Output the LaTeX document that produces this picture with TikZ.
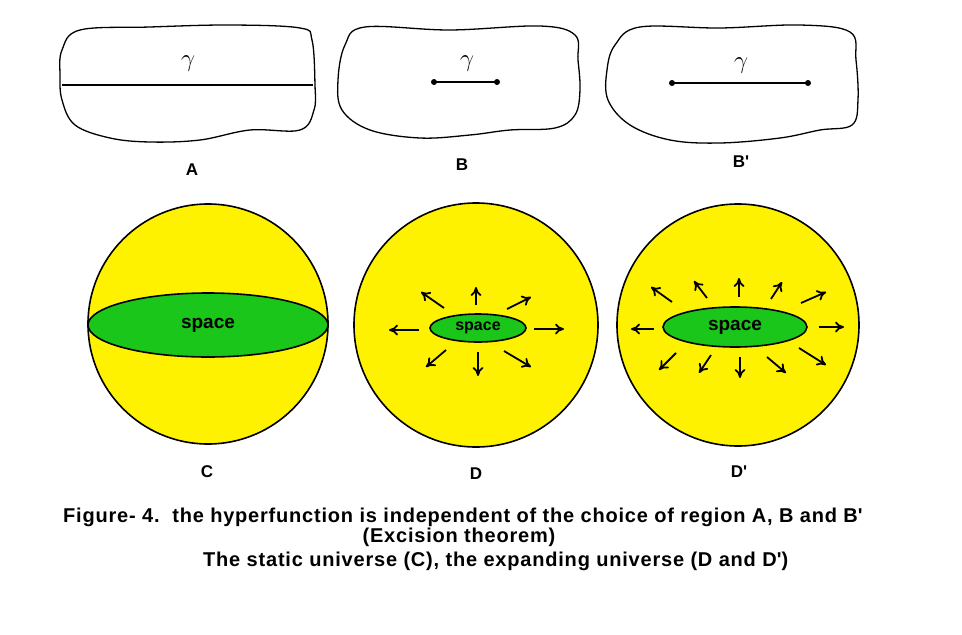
\documentclass[tikz,border=0pt]{standalone}
\usepackage{fontspec}
\setmainfont{Liberation Sans}
\usetikzlibrary{shapes.geometric,arrows.meta}
\begin{document}
\begin{tikzpicture}[x=1pt,y=-1pt,
  blob/.style={draw,line width=1.3pt,smooth cycle,tension=0.6},
  lbl/.style={font=\fontsize{17}{20}\selectfont\bfseries},
  captext/.style={font=\fontsize{20}{24}\selectfont\bfseries\addfontfeature{LetterSpace=4}},
  ball/.style={draw,line width=1.6pt,fill=yellow},
  sp/.style={draw,line width=1.6pt,fill=green!75!black!90,ellipse},
  gam/.style={font=\fontsize{28}{28}\selectfont},
  outarrow/.style={-{To[length=9pt,width=11pt,line width=1.8pt]},line width=1.8pt}]
\useasboundingbox (0,0) rectangle (962,635);
% blobs
\draw[blob] plot coordinates {(62,50)(80,30)(150,27)(230,25)(300,28)(312,40)(315,85)(314,110)(300,130)(250,130)(200,140)(150,142)(110,138)(75,125)(62,100)(60,75)};
\draw[blob] plot coordinates {(345,45)(365,27)(450,30)(540,26)(575,35)(578,60)(580,90)(575,115)(555,128)(510,130)(470,135)(420,138)(370,130)(342,110)(338,80)};
\draw[blob] plot coordinates {(615,45)(640,27)(720,28)(800,25)(850,32)(856,60)(858,100)(852,125)(820,130)(780,138)(720,143)(670,140)(630,125)(608,100)(607,70)};
\coordinate (a1) at (62,85); \coordinate (a2) at (313,85);
\draw[line width=2.4pt] (a1) -- (a2);
\node[gam] (ga) at (188,64) {$\gamma$};
\coordinate (b1) at (434,82); \coordinate (b2) at (497,82);
\draw[line width=1.6pt] (b1) -- (b2); \fill (b1) circle (3); \fill (b2) circle (3);
\node[gam] (gb) at (467,64) {$\gamma$};
\coordinate (c1) at (672,83); \coordinate (c2) at (808,83);
\draw[line width=1.6pt] (c1) -- (c2); \fill (c1) circle (3); \fill (c2) circle (3);
\node[gam] (gc) at (741,66) {$\gamma$};
\node[lbl] (lA) at (192,170) {A};
\node[lbl] (lB) at (462,165) {B};
\node[lbl] (lB2) at (741,162) {B\textquotesingle};
% balls
\draw[ball] (208,324) circle (120);
\node[sp,minimum width=240,minimum height=64] (sC) at (208,325) {};
\node[lbl,font=\fontsize{19}{20}\selectfont\bfseries] at (sC) {space};
\draw[ball] (476,325) circle (122);
\node[sp,minimum width=96,minimum height=28] (sD) at (478,328) {};
\node[lbl,font=\fontsize{16}{17}\selectfont\bfseries] at (sD) {space};
\draw[ball] (738,325) circle (121);
\node[sp,minimum width=144,minimum height=40] (sE) at (735,327) {};
\node[lbl,font=\fontsize{19}{20}\selectfont\bfseries] at (sE) {space};
% arrows D
\foreach \a/\b/\c/\d in {476/305/476/287, 444/308/421/292, 507/309/531/297, 419/330/389/330, 534/329/564/329, 446/350/426/367, 478/352/478/376, 504/351/531/367}
  \draw[outarrow] (\a,\b) -- (\c,\d);
% arrows D'
\foreach \a/\b/\c/\d in {654/329/631/329, 819/327/844/327, 672/302/651/287, 707/298/694/281, 739/297/739/278, 771/299/782/282, 801/303/826/292, 676/353/659/370, 711/355/699/373, 740/357/740/378, 767/357/786/373, 799/348/826/365}
  \draw[outarrow] (\a,\b) -- (\c,\d);
\node[lbl] (lC) at (207,472) {C};
\node[lbl] (lD) at (476,474) {D};
\node[lbl] (lD2) at (739,472) {D\textquotesingle};
% caption
\node[captext,anchor=west,inner sep=0] (t1) at (63,517) {Figure- 4.\ \ the hyperfunction is independent of the choice of region A, B and B\textquotesingle};
\node[captext] (t2) at (459,537) {(Excision theorem)};
\node[captext,anchor=west,inner sep=0] (t3) at (203,561) {The static universe (C), the expanding universe (D and D\textquotesingle)};
\end{tikzpicture}
\end{document}
